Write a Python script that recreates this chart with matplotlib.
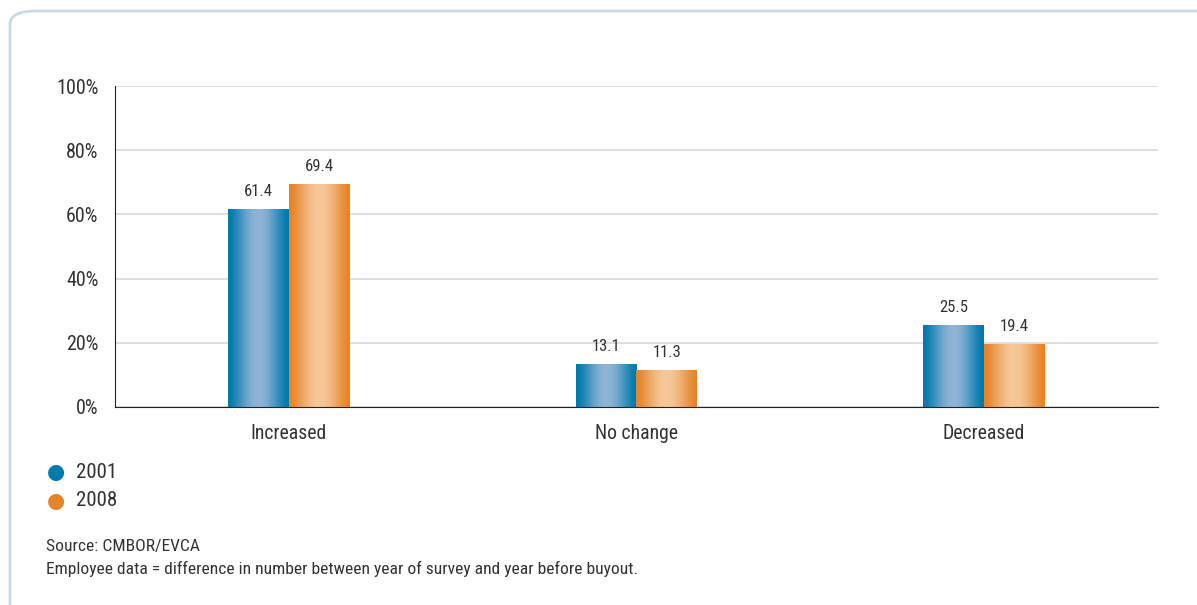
import numpy as np
import matplotlib.pyplot as plt
from matplotlib.patches import FancyBboxPatch
from matplotlib.colors import LinearSegmentedColormap
from matplotlib import font_manager

# Datos del grafico
categories = ['Increased', 'No change', 'Decreased']
years = ['2001', '2008']
values_2001 = [61.4, 13.1, 25.5]
values_2008 = [69.4, 11.3, 19.4]
yticks = [0, 20, 40, 60, 80, 100]

colors = {'2001': ('#0079ad', '#8fb4d6'), '2008': ('#e5842a', '#f6c898')}

# fuente condensada si existe
fams = {f.name for f in font_manager.fontManager.ttflist}
font = 'Liberation Sans'
for cand in ['Roboto Condensed', 'Archivo Narrow', 'PT Sans Narrow', 'Liberation Sans Narrow']:
    if cand in fams:
        font = cand
        break
plt.rcParams['font.family'] = [font, 'DejaVu Sans']
txt = '#333333'

fig = plt.figure(figsize=(11.97, 6.05), dpi=100)

# marco redondeado
frame = FancyBboxPatch((10 / 1197, 1 - 592 / 605 - 0.2), 1.2, 0.2 + 581 / 605,
                       boxstyle='round,pad=0,rounding_size=0.022',
                       transform=fig.transFigure, fill=False,
                       edgecolor='#c9d9ea', linewidth=2, clip_on=False)
fig.patches.append(frame)

ax = fig.add_axes([115 / 1197, 1 - 407 / 605, (1158 - 115) / 1197, (407 - 86) / 605])

x = np.arange(len(categories))
w = 0.175
grad = np.cos(np.linspace(-np.pi / 2, np.pi / 2, 64)) ** 1.5

for off, year, vals in [(-w / 2, '2001', values_2001), (w / 2, '2008', values_2008)]:
    bars = ax.bar(x + off, vals, width=w, color='none', edgecolor='none')
    cmap = LinearSegmentedColormap.from_list(year, colors[year])
    for b, v in zip(bars, vals):
        x0, y0 = b.get_x(), b.get_y()
        ax.imshow(grad[np.newaxis, :], cmap=cmap, aspect='auto', vmin=0, vmax=1,
                  extent=(x0, x0 + b.get_width(), y0, y0 + b.get_height()),
                  interpolation='bicubic', zorder=2)
        ax.text(x0 + b.get_width() / 2, v + 3.3, f'{v:.1f}', ha='center', va='bottom',
                fontsize=12, color=txt)

ax.set_xlim(-0.5, 2.5)
ax.set_ylim(0, 100)
ax.set_yticks(yticks)
ax.set_yticklabels([f'{t}%' for t in yticks], fontsize=14.5, color=txt)
ax.set_xticks(x)
ax.set_xticklabels(categories, fontsize=14.2, color=txt)
ax.tick_params(length=0)
ax.tick_params(axis='y', pad=12)
ax.tick_params(axis='x', pad=12)
ax.grid(axis='y', color='#d9d9d9', linewidth=1.2, zorder=0)
ax.set_axisbelow(True)
for s in ['top', 'right']:
    ax.spines[s].set_visible(False)
ax.spines['left'].set_color('#222222')
ax.spines['bottom'].set_color('#222222')

# leyenda
for i, year in enumerate(years):
    yy = 1 - (472 + 29 * i) / 605
    fig.text(56 / 1197, yy, '\u25CF', color=colors[year][0], fontsize=15,
             ha='center', va='center', family='DejaVu Sans')
    fig.text(76 / 1197, yy, year, fontsize=15, color=txt, va='center')

fig.text(46 / 1197, 1 - 546 / 605, 'Source: CMBOR/EVCA', fontsize=12.6, color=txt, va='center')
fig.text(46 / 1197, 1 - 569 / 605,
         'Employee data = difference in number between year of survey and year before buyout.',
         fontsize=12.6, color=txt, va='center')

fig.savefig('out.png', dpi=100)
